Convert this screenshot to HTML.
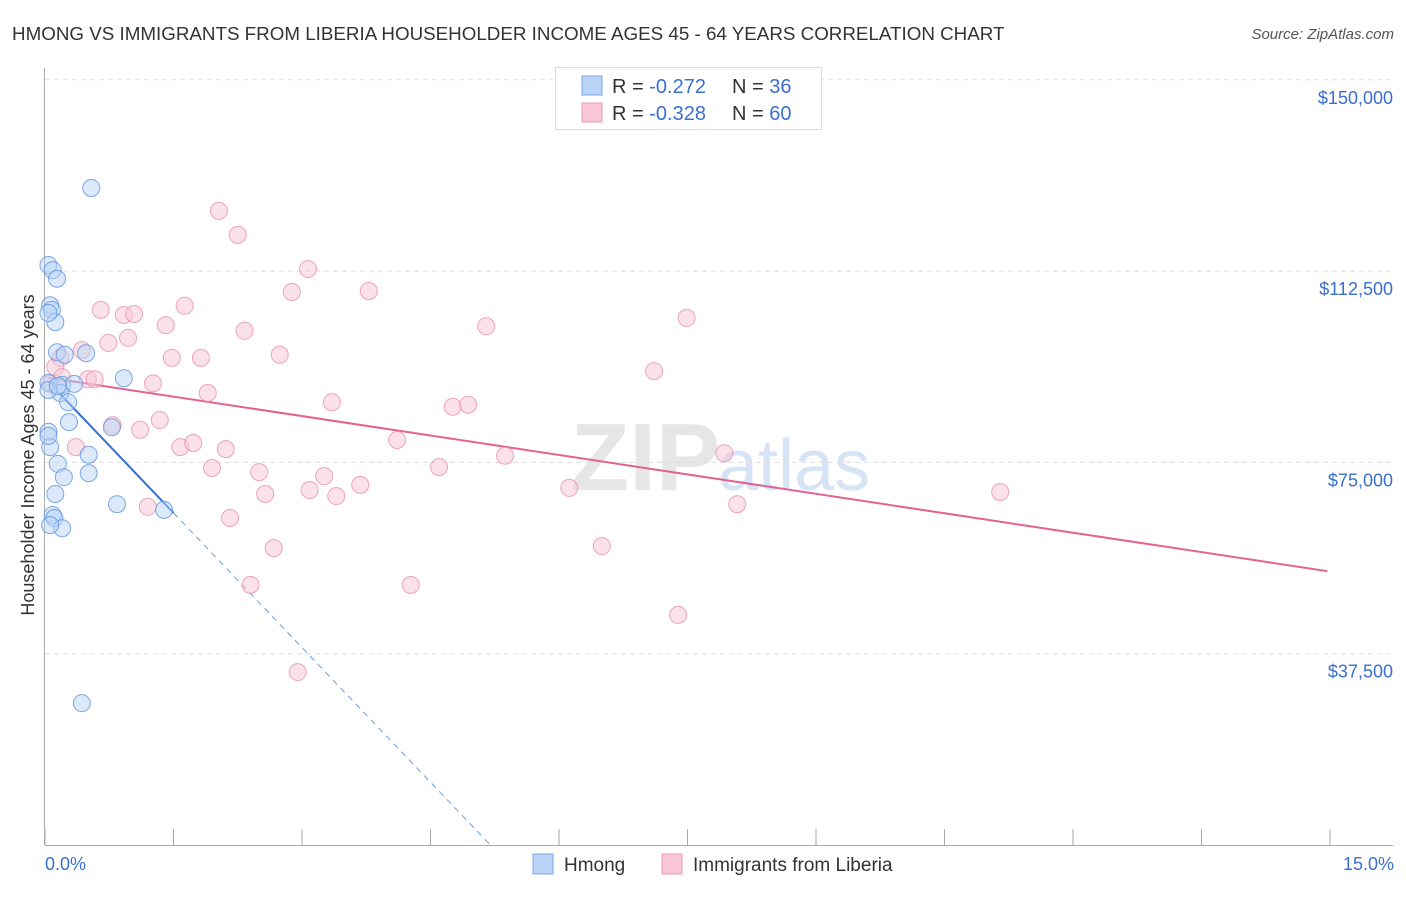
<!DOCTYPE html>
<html><head><meta charset="utf-8"><style>
body{margin:0;background:#fff;font-family:"Liberation Sans",sans-serif;}
svg text{font-family:"Liberation Sans",sans-serif;}
</style></head><body>
<svg id="chart" width="1406" height="892" viewBox="0 0 1406 892">
<text x="12" y="40" font-size="18.8" fill="#333">HMONG VS IMMIGRANTS FROM LIBERIA HOUSEHOLDER INCOME AGES 45 - 64 YEARS CORRELATION CHART</text>
<text x="1394" y="39" font-size="15" fill="#555" text-anchor="end" font-style="italic">Source: ZipAtlas.com</text>
<text x="720" y="490" font-size="96" fill="#e6e6e6" text-anchor="end" font-family="Liberation Serif" font-weight="bold">ZIP</text>
<text x="718" y="490" font-size="72" fill="#d6e4f5">atlas</text>
<g id="grid"></g><g id="axes"></g><g id="lines"></g><g id="pts"></g>
<text transform="translate(34,455) rotate(-90)" font-size="18" fill="#333" text-anchor="middle">Householder Income Ages 45 - 64 years</text>
<text x="45" y="870" font-size="18" fill="#3a6fd0">0.0%</text>
<text x="1394" y="870" font-size="18" fill="#3a6fd0" text-anchor="end">15.0%</text>
<g>
<rect x="555.5" y="67.5" width="266" height="62" fill="#fff" stroke="#ddd"/>
<rect x="582" y="76" width="20" height="19" fill="#b8d3f5" stroke="#7ea7e4"/>
<rect x="582" y="103" width="20" height="19" fill="#f8c6d5" stroke="#eb9ab3"/>
<text x="612" y="93" font-size="20" fill="#333">R = <tspan fill="#3a6fd0">-0.272</tspan></text>
<text x="732" y="93" font-size="20" fill="#333">N = <tspan fill="#3a6fd0">36</tspan></text>
<text x="612" y="120" font-size="20" fill="#333">R = <tspan fill="#3a6fd0">-0.328</tspan></text>
<text x="732" y="120" font-size="20" fill="#333">N = <tspan fill="#3a6fd0">60</tspan></text>
</g>
<g>
<rect x="533" y="854" width="20" height="20" fill="#b8d3f5" stroke="#7ea7e4"/>
<text x="564" y="871" font-size="19" fill="#333">Hmong</text>
<rect x="662" y="854" width="20" height="20" fill="#f8c6d5" stroke="#eb9ab3"/>
<text x="693" y="871" font-size="19" fill="#333">Immigrants from Liberia</text>
</g>
</svg>
<script>
const yTicks=[37500,75000,112500,150000];
const yTickLabels=["$37,500","$75,000","$112,500","$150,000"];
const xTicks=[0,1.5,3,4.5,6,7.5,9,10.5,12,13.5,15];
const hmongX=[0.54,0.04,0.09,0.14,0.06,0.08,0.12,0.04,0.14,0.23,0.48,0.92,0.04,0.20,0.34,0.18,0.27,0.28,0.78,0.04,0.06,0.15,0.22,0.51,0.51,0.12,0.84,1.39,0.09,0.11,0.20,0.43,0.04,0.15,0.04,0.06];
const hmongY=[128.8,113.7,112.7,111.0,105.8,104.9,102.5,104.3,96.6,96.1,96.4,91.5,90.6,90.2,90.4,88.6,86.8,82.9,81.9,81.0,78.0,74.7,72.1,76.5,72.9,68.8,66.8,65.7,64.7,64.1,62.1,27.8,89.2,90.0,80.2,62.7];
const liberiaX=[2.03,2.25,3.07,2.88,3.78,0.65,0.92,1.04,1.63,1.41,2.33,5.15,7.49,0.74,0.97,0.18,0.43,1.48,1.82,2.74,7.11,0.12,0.20,0.50,0.58,1.26,1.90,3.35,4.76,4.94,0.79,1.11,1.34,1.58,1.73,2.11,4.11,0.36,1.95,2.50,4.60,5.37,7.93,3.26,3.09,2.57,3.40,3.68,6.12,11.15,1.20,2.16,8.08,2.67,6.50,2.40,4.27,7.39,2.95,0.06];
const liberiaY=[124.3,119.6,112.9,108.4,108.6,104.9,103.9,104.1,105.7,101.9,100.8,101.7,103.3,98.4,99.4,95.5,97.0,95.5,95.5,96.1,92.9,93.7,91.7,91.3,91.3,90.5,88.6,86.8,85.9,86.3,82.3,81.4,83.3,78.0,78.8,77.6,79.4,78.0,73.9,73.1,74.1,76.3,76.8,72.3,69.6,68.8,68.4,70.6,70.0,69.2,66.3,64.1,66.8,58.2,58.6,51.0,51.0,45.1,33.9,90.4];
const hmongTrend=[91.5,-17.6];
const liberiaTrend=[91.7,-2.54];
const NS="http://www.w3.org/2000/svg";
const X=v=>45+v*85.667;
const Y=v=>845-v*5.1013;
function mk(t,a,p){const e=document.createElementNS(NS,t);for(const k in a)e.setAttribute(k,a[k]);document.getElementById(p).appendChild(e);return e;}
yTicks.forEach((t,i)=>{
 const g=mk('line',{x1:45,x2:1393,y1:Y(t/1000),y2:Y(t/1000),stroke:'#ddd','stroke-dasharray':'5,4'},'grid');
 
 
 const l=mk('text',{x:1393,y:Y(t/1000)+24,'font-size':18,fill:'#3a6fd0','text-anchor':'end'},'axes');
 l.textContent=yTickLabels[i];
 
 
});
const ax=mk('line',{x1:44.5,x2:44.5,y1:68,y2:845,stroke:'#aaa'},'axes');


const bx=mk('line',{x1:45,x2:1393,y1:845.5,y2:845.5,stroke:'#aaa'},'axes');


xTicks.forEach(t=>{const e=mk('line',{x1:X(t),x2:X(t),y1:829,y2:845,stroke:'#aaa'},'axes');
 
 });
function pts(xs,ys,f,s,name){xs.forEach((x,i)=>{const c=mk('circle',{cx:X(x),cy:Y(ys[i]),r:8.5,fill:f,'fill-opacity':0.5,stroke:s,'stroke-width':1,'stroke-opacity':0.8},'pts');
 
 });}
pts(liberiaX,liberiaY,'#f8c6d5','#eb8fac','point-liberia');
pts(hmongX,hmongY,'#b8d3f5','#5f93de','point-hmong');
const hEnd=1.5, hZero=-hmongTrend[0]/hmongTrend[1];
const hl=mk('line',{x1:X(0.04),y1:Y(hmongTrend[0]+hmongTrend[1]*0.04),x2:X(hEnd),y2:Y(hmongTrend[0]+hmongTrend[1]*hEnd),stroke:'#2f6fd6','stroke-width':2},'lines');


const hd=mk('line',{x1:X(hEnd),y1:Y(hmongTrend[0]+hmongTrend[1]*hEnd),x2:X(hZero),y2:Y(0),stroke:'#6a9be0','stroke-width':1,'stroke-dasharray':'6,5'},'lines');


const ll=mk('line',{x1:X(0.04),y1:Y(liberiaTrend[0]+liberiaTrend[1]*0.04),x2:X(14.97),y2:Y(liberiaTrend[0]+liberiaTrend[1]*14.97),stroke:'#e4628f','stroke-width':2},'lines');


</script>
</body></html>
